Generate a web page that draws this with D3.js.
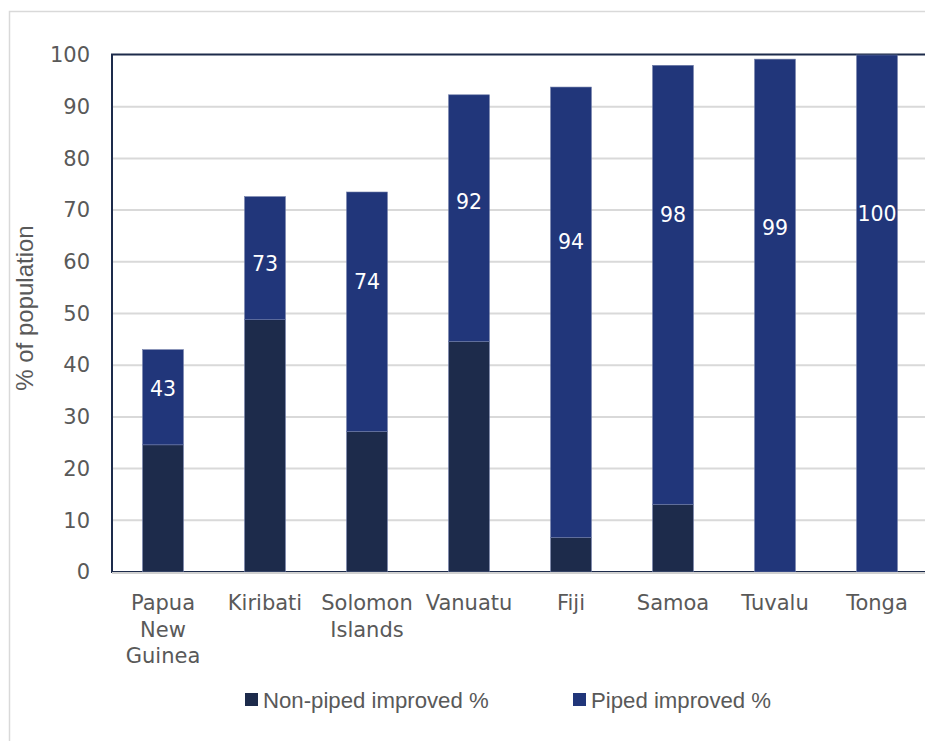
<!DOCTYPE html>
<html>
<head>
<meta charset="utf-8">
<script src="https://cdn.jsdelivr.net/npm/d3@7"></script>
<style>
  body { margin: 0; background: #fff; }
  svg { display: block; }
</style>
</head>
<body>
<div id="chart"></div>
<script>
// data
let countries = [['Papua', 'New', 'Guinea'], ['Kiribati'], ['Solomon', 'Islands'], ['Vanuatu'], ['Fiji'], ['Samoa'], ['Tuvalu'], ['Tonga']]
let nonPiped = [24.6, 48.8, 27.2, 44.6, 6.7, 13.1, 0, 0]
let piped = [18.4, 23.8, 46.3, 47.7, 87.1, 84.9, 99.2, 100]
let totalLabels = [43, 73, 74, 92, 94, 98, 99, 100]
// where each total label sits, in % units on the value axis
let labelAt = [35.4, 59.6, 56.1, 71.6, 64.0, 69.1, 66.7, 69.4]
let yTicks = [0, 10, 20, 30, 40, 50, 60, 70, 80, 90, 100]
let seriesNames = ['Non-piped improved %', 'Piped improved %']

let W = 925, H = 741
let plot = {left: 112, top: 55, right: 928, bottom: 572}
let colors = ['#1d2b4b', '#21367a']
let textGray = '#595959'
let tickFont = '"DejaVu Sans", sans-serif'
let arialFont = '"Liberation Sans", Arial, sans-serif'

let svg = d3.select('#chart')
  .append('svg')
  .attr('width', W)
  .attr('height', H)

// outer chart border
svg.append('rect')
  .attr('x', 9.5).attr('y', 11.5)
  .attr('width', W + 20).attr('height', H + 20)
  .attr('fill', 'none')
  .attr('stroke', '#d9d9d9')
  .attr('stroke-width', 1.5)

let ids = d3.range(countries.length)
let x = d3.scaleBand()
  .domain(ids)
  .range([plot.left, plot.right])
  .paddingInner(0.6)
  .paddingOuter(0.3)

let y = d3.scaleLinear()
  .domain([0, 100])
  .range([plot.bottom, plot.top])

// gridlines
svg.append('g')
  .selectAll('line')
  .data(yTicks.filter(d => d > 0 && d < 100))
  .enter()
  .append('line')
  .attr('x1', plot.left).attr('x2', plot.right)
  .attr('y1', d => y(d)).attr('y2', d => y(d))
  .attr('stroke', '#d9d9d9')
  .attr('stroke-width', 2)

// plot area border
svg.append('rect')
  .attr('x', plot.left).attr('y', plot.top - 0.5)
  .attr('width', plot.right - plot.left)
  .attr('height', plot.bottom - plot.top + 0.5)
  .attr('fill', 'none')
  .attr('stroke', '#1d2b4b')
  .attr('stroke-width', 2)

// stacked bars
let stackData = ids.map(i => ({id: i, nonPiped: nonPiped[i], piped: piped[i]}))
let stacked = d3.stack().keys(['nonPiped', 'piped'])(stackData)

svg.append('g')
  .selectAll('g')
  .data(stacked)
  .enter()
  .append('g')
  .attr('fill', (d, i) => colors[i])
  .selectAll('rect')
  .data(d => d.filter(s => s[1] - s[0] > 0))
  .enter()
  .append('rect')
  .attr('x', d => x(d.data.id))
  .attr('y', d => y(d[1]))
  .attr('width', x.bandwidth())
  .attr('height', d => y(d[0]) - y(d[1]))
  .attr('stroke', '#6c7aa6')
  .attr('stroke-width', 0.6)

// bottom axis line
svg.append('line')
  .attr('x1', plot.left).attr('x2', plot.right)
  .attr('y1', plot.bottom + 1).attr('y2', plot.bottom + 1)
  .attr('stroke', '#d0d0d0')
  .attr('stroke-width', 2)

// total labels
svg.append('g')
  .selectAll('text')
  .data(ids)
  .enter()
  .append('text')
  .attr('x', i => x(i) + x.bandwidth() / 2)
  .attr('y', i => y(labelAt[i]))
  .attr('dy', '0.36em')
  .attr('text-anchor', 'middle')
  .attr('fill', '#fff')
  .style('font-family', tickFont)
  .style('font-size', '20.5px')
  .text(i => totalLabels[i])

// y axis
let yAxis = svg.append('g')
  .attr('transform', 'translate(' + plot.left + ',0)')
  .call(d3.axisLeft(y).tickValues(yTicks).tickSize(0).tickPadding(22))
yAxis.select('.domain').remove()
yAxis.selectAll('text')
  .attr('fill', textGray)
  .style('font-family', tickFont)
  .style('font-size', '21px')

// x axis labels (multi-line)
let xl = svg.append('g')
  .selectAll('text')
  .data(ids)
  .enter()
  .append('text')
  .attr('x', i => x(i) + x.bandwidth() / 2)
  .attr('y', 603)
  .attr('text-anchor', 'middle')
  .attr('fill', textGray)
  .style('font-family', tickFont)
  .style('font-size', '21px')
xl.selectAll('tspan')
  .data(i => countries[i].map(t => ({t: t, i: i})))
  .enter()
  .append('tspan')
  .attr('x', d => x(d.i) + x.bandwidth() / 2)
  .attr('dy', (d, j) => j === 0 ? '0.35em' : '26.5')
  .text(d => d.t)

// y axis title
svg.append('text')
  .attr('transform', 'translate(33,308) rotate(-90)')
  .attr('text-anchor', 'middle')
  .attr('fill', textGray)
  .style('font-family', arialFont)
  .style('font-size', '24px')
  .text('% of population')

// legend
let legendX = [245, 573]
let legend = svg.append('g')
  .selectAll('g')
  .data(seriesNames)
  .enter()
  .append('g')
  .attr('transform', (d, i) => 'translate(' + legendX[i] + ',693)')

legend.append('rect')
  .attr('width', 13)
  .attr('height', 13)
  .attr('fill', (d, i) => colors[i])

legend.append('text')
  .attr('x', 18)
  .attr('y', 7)
  .attr('dy', '0.35em')
  .attr('fill', textGray)
  .style('font-family', arialFont)
  .style('font-size', '22.2px')
  .text(d => d)
</script>
</body>
</html>
